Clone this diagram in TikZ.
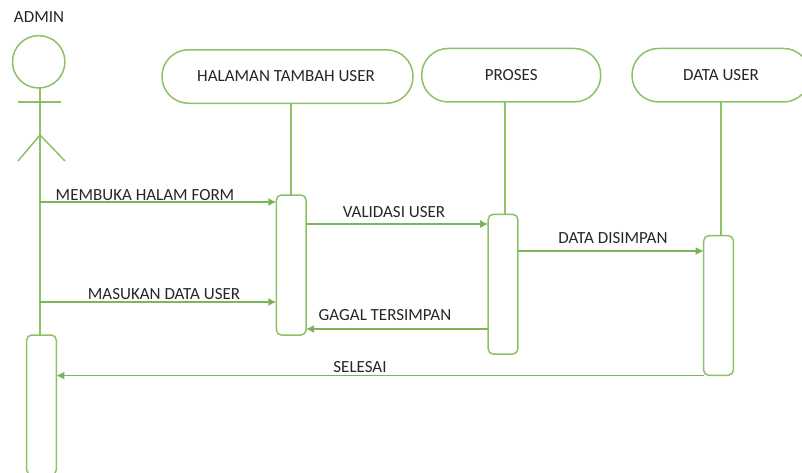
\documentclass[tikz,border=0pt]{standalone}
\usepackage{fontspec}
\setmainfont{Carlito}
\usetikzlibrary{arrows.meta}
\definecolor{umlgreen}{HTML}{70AD47}
\definecolor{umlline}{HTML}{8CC168}
\definecolor{umltext}{HTML}{262626}
\tikzset{
  x=1pt,y=-1pt,
  every node/.style={text=umltext,font=\fontsize{17}{19}\selectfont,inner sep=0pt,outer sep=0pt},
  pill/.style={draw=umlline,line width=1.5pt,rounded corners=26.5pt,minimum height=53.5pt},
  activation/.style={draw=umlline,line width=1.5pt,rounded corners=5pt,minimum width=29.6pt},
  lifeline/.style={draw=umlline,line width=1.5pt},
  message/.style={draw=umlgreen!90!white,line width=1.4pt,-{Latex[length=8pt,width=8pt,fill=umlgreen]}},
  msglabel/.style={anchor=center},
  stick/.style={draw=umlline,line width=1.5pt}
}
\begin{document}
\begin{tikzpicture}
\useasboundingbox (0,0) rectangle (802,472);
% actor
\node (admin) at (39,17) {ADMIN};
\node[stick,circle,minimum size=52.4pt] (head) at (38.7,61.8) {};
\coordinate (hip) at (40,135);
\coordinate (armL) at (18,102);
\coordinate (armR) at (61,102);
\coordinate (legL) at (18,161);
\coordinate (legR) at (65,161);
\draw[stick] (armL) -- (armR);
\draw[stick] (legL) -- (hip) -- (legR);
% heads
\node[pill,minimum width=251pt] (p1) at (287.5,76.5) {\hspace{-3pt}HALAMAN TAMBAH USER};
\node[pill,minimum width=179pt] (p2) at (511.2,75.2) {PROSES};
\node[pill,minimum width=178pt] (p3) at (721,75.2) {DATA USER};
% activations
\node[activation,minimum height=140pt] (b0) at (41.5,405) {};
\node[activation,minimum height=140pt] (b1) at (291.2,265) {};
\node[activation,minimum height=139.7pt] (b2) at (503,284.2) {};
\node[activation,minimum height=139.6pt] (b3) at (718.5,305.5) {};
% lifelines
\draw[lifeline] (head.south -| hip) -- (hip |- b0.north);
\draw[lifeline] (p1.south -| 291,0) -- (291,0 |- b1.north);
\draw[lifeline] (p2.south -| 505,0) -- (505,0 |- b2.north);
\draw[lifeline] (p3.south) -- (p3.south |- b3.north);
% messages
\draw[message] (hip |- 0,202) -- (b1.west |- 0,202);
\draw[message] (b1.east |- 0,224) -- (b2.west |- 0,224);
\draw[message] (b2.east |- 0,251) -- (b3.west |- 0,251);
\draw[message] (hip |- 0,302) -- (b1.west |- 0,302);
\draw[message] (b2.west |- 0,329) -- (b1.east |- 0,329);
\draw[message] (b3.west |- 0,375.6) -- (b0.east |- 0,375.6);
% labels
\node[msglabel] (l1) at (145,195) {MEMBUKA HALAM FORM};
\node[msglabel] (l2) at (394,212) {VALIDASI USER};
\node[msglabel] (l3) at (613,238) {DATA DISIMPAN};
\node[msglabel] (l4) at (164,294) {MASUKAN DATA USER};
\node[msglabel] (l5) at (385,315) {GAGAL TERSIMPAN};
\node[msglabel] (l6) at (360,367) {SELESAI};
\end{tikzpicture}
\end{document}
